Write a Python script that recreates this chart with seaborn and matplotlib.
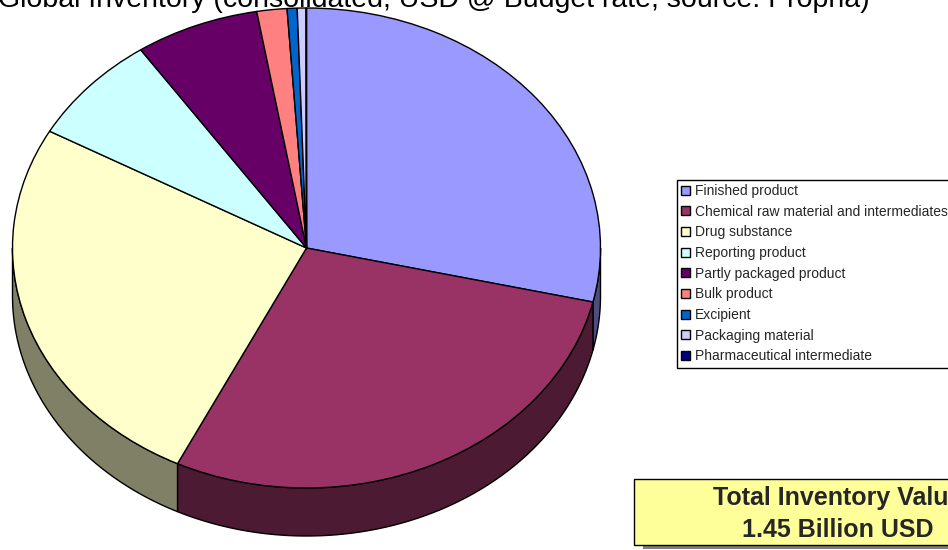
import numpy as np
import matplotlib
matplotlib.use("Agg")
import matplotlib.pyplot as plt
from matplotlib.patches import Polygon, Rectangle
import seaborn as sns

# Inventory split by material type (million USD)
categories = [
    "Finished product",
    "Chemical raw material and intermediates",
    "Drug substance",
    "Reporting product",
    "Partly packaged product",
    "Bulk product",
    "Excipient",
    "Packaging material",
    "Pharmaceutical intermediate",
]
values_musd = [415, 415, 375, 107, 99, 24, 8, 7, 0.3]
slice_colors = ["#9999FF", "#993366", "#FFFFCC", "#CCFFFF", "#660066",
                "#FF8080", "#0066CC", "#CCCCFF", "#000080"]
title_text = "Global Inventory (consolidated, USD @ Budget rate, source: Propha)"
total_label = "Total Inventory Value"

sns.set_style("white")
plt.rcParams["font.family"] = ["Liberation Sans", "DejaVu Sans"]

W, H = 948, 550
fig = plt.figure(figsize=(W / 100, H / 100), dpi=100)
ax = fig.add_axes([0, 0, 1, 1])

palette = sns.color_palette(slice_colors)
wedges, _ = ax.pie(values_musd, colors=palette, startangle=90,
                   counterclock=False, radius=1,
                   wedgeprops=dict(edgecolor="black", linewidth=1.0, zorder=3))

# tilted view: squash the circle into an ellipse (pixel geometry)
cx, cy, rx, ry, depth_px = 306.5, 248, 294, 240, 48
ax.set_aspect("auto")
ax.set_xlim(-cx / rx, (W - cx) / rx)
ax.set_ylim((cy - H) / ry, cy / ry)
ax.axis("off")

# extruded side walls on the front half of the pie
depth = depth_px / ry
for w, col in zip(wedges, palette):
    t1, t2 = w.theta1, w.theta2
    for k in (-1, 0, 1):
        lo, hi = max(t1, 180 + 360 * k), min(t2, 360 + 360 * k)
        if hi > lo:
            t = np.radians(np.linspace(lo, hi, 120))
            top = np.column_stack([np.cos(t), np.sin(t)])
            bot = np.column_stack([np.cos(t[::-1]), np.sin(t[::-1]) - depth])
            ax.add_patch(Polygon(np.vstack([top, bot]), closed=True,
                                 facecolor=np.array(col) * 0.5,
                                 edgecolor="black", lw=1.0, zorder=1))

fig.text(-2 / W, 1 - 7 / H, title_text, ha="left", va="baseline",
         fontsize=20.5, color="black")

leg = fig.legend(wedges, categories, loc="upper left",
                 bbox_to_anchor=(677 / W, 1 - 180 / H),
                 bbox_transform=fig.transFigure, borderaxespad=0,
                 frameon=True, fancybox=False, edgecolor="black",
                 framealpha=1, fontsize=10, handlelength=0.62,
                 handleheight=0.62, handletextpad=0.4, labelspacing=0.48,
                 borderpad=0.3)
leg.get_frame().set_linewidth(1.0)

# total value box with drop shadow
box_x0, box_y0, box_w, box_h = 634, 479, 404, 66
fig.patches.append(Rectangle(((box_x0 + 9) / W, 1 - (box_y0 + box_h + 4) / H),
                             box_w / W, box_h / H, transform=fig.transFigure,
                             facecolor="#808080", edgecolor="none", zorder=5))
fig.patches.append(Rectangle((box_x0 / W, 1 - (box_y0 + box_h) / H),
                             box_w / W, box_h / H, transform=fig.transFigure,
                             facecolor="#FFFF99", edgecolor="black", lw=1.0,
                             zorder=6))
total_busd = sum(values_musd) / 1000
fig.text(838 / W, 1 - 505 / H, total_label, ha="center", va="baseline",
         fontsize=18, fontweight="bold", zorder=7)
fig.text(838 / W, 1 - 537 / H, f"{total_busd:.2f} Billion USD", ha="center",
         va="baseline", fontsize=18, fontweight="bold", zorder=7)

fig.savefig("out.png", dpi=100)
